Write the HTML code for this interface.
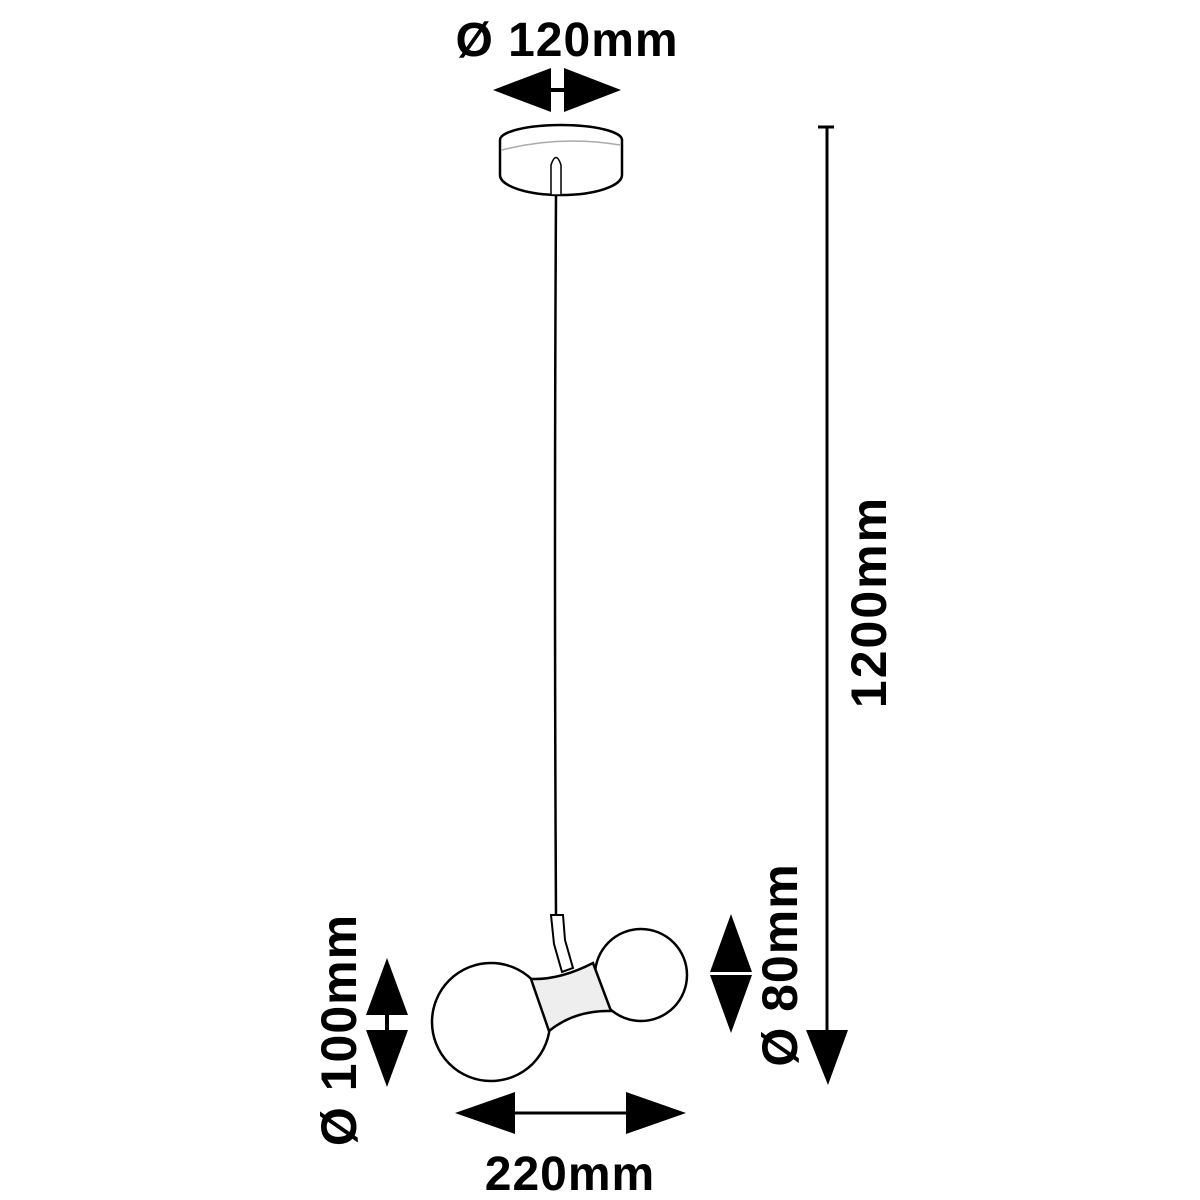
<!DOCTYPE html>
<html><head><meta charset="utf-8"><style>
html,body{margin:0;padding:0;background:#fff;}
svg{display:block;}
text{font-family:"Liberation Sans",sans-serif;font-weight:bold;fill:#000;}
</style></head><body>
<svg width="1200" height="1200" viewBox="0 0 1200 1200" xmlns="http://www.w3.org/2000/svg">
<text x="567" y="56" font-size="48" letter-spacing="1" text-anchor="middle">Ø 120mm</text>
<polygon points="493,90 551,68 551,112" fill="#000"/>
<polygon points="621,90 564,68 564,112" fill="#000"/>
<rect x="550" y="88" width="15" height="4" fill="#000"/>
<path d="M500,140 A61,15 0 0 1 622,140 L622,175 A61,20 0 0 1 500,175 Z" fill="#fff" stroke="#000" stroke-width="2.5"/>
<path d="M502,150 Q560,135 620,145" fill="none" stroke="#aaa" stroke-width="1.5"/>
<path d="M551,195 L551,165 Q556,150 561,165 L561,195 Z" fill="#fff" stroke="#000" stroke-width="1.5"/>
<path d="M556,195 Q554,560 556,915" fill="none" stroke="#000" stroke-width="2.5"/>
<path d="M551,915 L563,915 L565,940 L573,968 L562,972 L554,944 Z" fill="#fff" stroke="#000" stroke-width="2"/>
<circle cx="491" cy="1022" r="59" fill="#fff" stroke="#000" stroke-width="2.5"/>
<circle cx="641" cy="975" r="46" fill="#fff" stroke="#000" stroke-width="2.5"/>
<path d="M531,979 Q560,980 593,963 L611,1011 Q575,1010 549,1031 Z" fill="#eee" stroke="#000" stroke-width="2.5"/>
<line x1="818" y1="127" x2="834" y2="127" stroke="#000" stroke-width="3"/>
<line x1="827" y1="127" x2="827" y2="1035" stroke="#000" stroke-width="3"/>
<polygon points="806,1030 848,1030 828,1085" fill="#000"/>
<text transform="translate(886,602) rotate(-90)" font-size="50" letter-spacing="2" text-anchor="middle">1200mm</text>
<polygon points="731,914 710,972 752,972" fill="#000"/>
<polygon points="731,1033 710,975 752,975" fill="#000"/>
<text transform="translate(797,965) rotate(-90)" font-size="50" letter-spacing="1" text-anchor="middle">Ø 80mm</text>
<polygon points="387,958 366,1015 408,1015" fill="#000"/>
<polygon points="387,1087 366,1030 408,1030" fill="#000"/>
<rect x="385" y="1014" width="4" height="17" fill="#000"/>
<text transform="translate(356,1030) rotate(-90)" font-size="50" letter-spacing="1" text-anchor="middle">Ø 100mm</text>
<polygon points="455,1113 515,1092 515,1134" fill="#000"/>
<polygon points="686,1113 626,1092 626,1134" fill="#000"/>
<line x1="514" y1="1113" x2="627" y2="1113" stroke="#000" stroke-width="3"/>
<text x="570" y="1190" font-size="48" letter-spacing="1" text-anchor="middle">220mm</text>
</svg>
</body></html>
